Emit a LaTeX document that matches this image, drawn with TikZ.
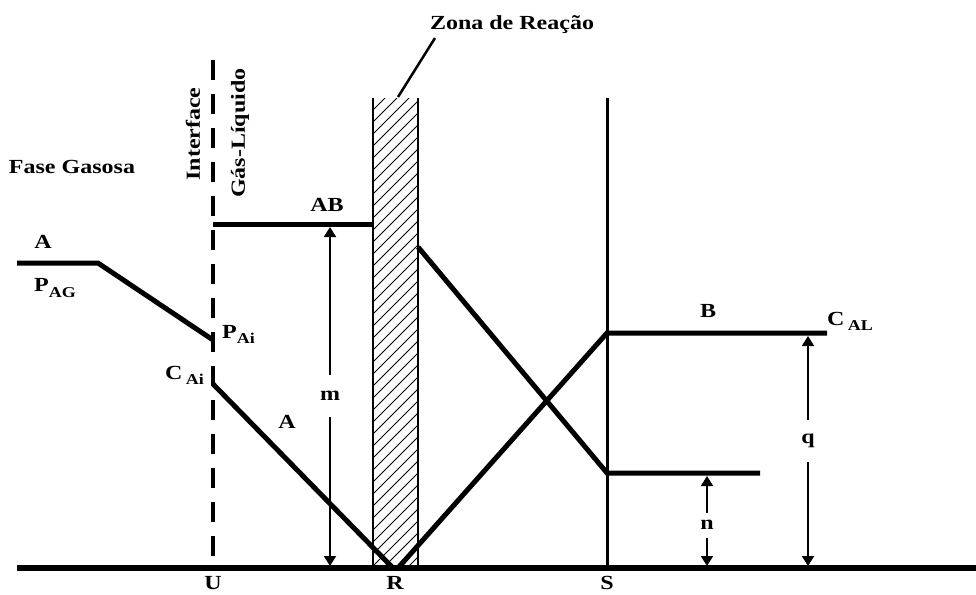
\documentclass[tikz,border=0pt]{standalone}
\usepackage{fontspec}
\setmainfont{Liberation Serif}[FakeStretch=1.2]
\usetikzlibrary{arrows.meta, positioning}

\newcommand{\lowidx}[1]{\raisebox{-0.55ex}{\fontsize{15}{17}\selectfont #1}}

\begin{document}
\begin{tikzpicture}[
    x=1pt, y=-1pt,
    every node/.style={font=\fontsize{20}{23}\selectfont\bfseries, inner sep=1pt},
    profile/.style={line width=5pt, line join=miter},
    interface/.style={line width=3.5pt, dash pattern=on 20pt off 14pt},
    wall/.style={line width=2pt},
    dim/.style={{Triangle[width=12pt,length=10pt]}-{Triangle[width=12pt,length=10pt]}, line width=1.8pt},
    dimlabel/.style={fill=white, inner sep=0pt, minimum width=14pt}
]
\useasboundingbox (0,0) rectangle (976,594);

% key points
\coordinate (base0) at (17,568);
\coordinate (base1) at (976,568);
\coordinate (U) at (213,568);
\coordinate (R) at (395,568);
\coordinate (S) at (607,568);
\coordinate (gasA) at (17,263);
\coordinate (gasB) at (98,263);
\coordinate (pAi) at (213,340);
\coordinate (cAi) at (213,384);
\coordinate (abL) at (213,224);
\coordinate (abR) at (373,224);
\coordinate (zoneTL) at (373,98);
\coordinate (zoneBR) at (418,568);
\coordinate (bIn) at (418,247);
\coordinate (bS) at (607,473);
\coordinate (bEnd) at (760,473);
\coordinate (cS) at (607,333);
\coordinate (cEnd) at (827,333);

% reaction zone (hatched)
\begin{scope}
    \clip (zoneTL) rectangle (zoneBR);
    \foreach \k in {0,...,50}
        \draw[line width=1pt] (373,98+\k*12) -- ++(60,-60);
\end{scope}
\draw[wall] (zoneTL) -- (373,568);
\draw[wall] (418,98) -- (zoneBR);

% interface and S plane
\draw[interface] (213,60) -- (U);
\draw[line width=3pt] (607,98) -- (S);

% concentration profiles
\draw[profile] (gasA) -- (gasB) -- (pAi);
\draw[profile] (cAi) -- (393,568);
\draw[profile] (abL) -- (abR);
\draw[profile] (bIn) -- (bS) -- (bEnd);
\draw[profile] (398,568) -- (cS) -- (cEnd);
\draw[profile, line width=5.5pt] (base0) -- (base1);

% dimension arrows
\draw[dim] (330,227) -- (330,566);
\node[dimlabel, minimum height=42pt] (m) at (330,396) {m};
\draw[dim] (707,476) -- (707,566);
\node[dimlabel, minimum height=25pt] (n) at (707,525) {n};
\draw[dim] (808,336) -- (808,566);
\node[dimlabel, minimum height=42pt] (q) at (808,441) {q};

% labels
\node (fase) at (72,167) {Fase Gasosa};
\node[rotate=90] (inter) at (193,134) {Interface};
\node[rotate=90] (gl) at (240,133) {Gás-Líquido};
\node (zona) at (512,25) {Zona de Reação};
\draw[line width=2.5pt] (435,38) -- (398,97);
\node (gasAlbl) at (43,242) {A};
\node[anchor=west] (pag) at (33,288) {P\lowidx{AG}};
\node[anchor=west] (pai) at (221,334) {P\lowidx{Ai}};
\node[anchor=east] (cai) at (205,375) {C\,\lowidx{Ai}};
\node (liqA) at (287,422) {A};
\node (ab) at (327,205) {AB};
\node (blbl) at (708,311) {B};
\node[anchor=west] (cal) at (826,321) {C\,\lowidx{AL}};
\node[anchor=north] (ulbl) at (U |- 0,575) {U};
\node[anchor=north] (rlbl) at (R |- 0,575) {R};
\node[anchor=north] (slbl) at (S |- 0,575) {S};
\end{tikzpicture}
\end{document}
